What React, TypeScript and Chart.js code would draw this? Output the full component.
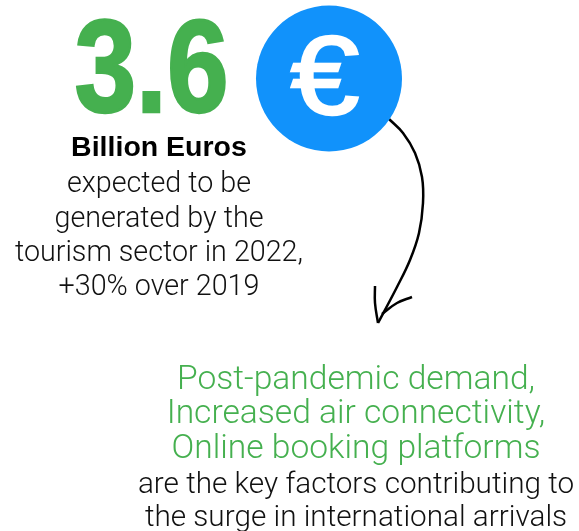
import React, { useEffect, useRef } from "react";
import { Chart, registerables } from "chart.js";

Chart.register(...registerables);

const headlineText = ["3.6"];
const unitText = ["Billion Euros"];
const bodyText = ["expected to be", "generated by the", "tourism sector in 2022,", "+30% over 2019"];
const factorText = ["Post-pandemic demand,", "Increased air connectivity,", "Online booking platforms"];
const closingText = ["are the key factors contributing to", "the surge in international arrivals"];
const currencyText = ["€"];

const bubbleX = [329];
const bubbleY = [78.5];
const arrowShaftX = [389, 403, 415, 422, 423, 419, 410, 397, 378];
const arrowShaftY = [119, 133, 153, 177, 203, 233, 260, 287, 323];
const arrowLeftX = [375, 375, 378];
const arrowLeftY = [286, 303, 323];
const arrowRightX = [382, 397, 412];
const arrowRightY = [314, 303, 297];

const GREEN = "#45b04f";
const BLUE = "#1192fb";

type Block = {
  texts: string[];
  x: number;
  ys: number[];
  font: string;
  color: string;
  baseline?: CanvasTextBaseline;
  stretch?: number;
  embolden?: number;
};

const blocks: Block[] = [
  { texts: headlineText, x: 151.5, ys: [111.5], font: 'bold 132px "Liberation Sans", sans-serif', color: GREEN, stretch: 0.84, embolden: 2.5 },
  { texts: unitText, x: 159, ys: [156], font: 'bold 28.5px "Liberation Sans", sans-serif', color: "#000000" },
  { texts: bodyText, x: 159, ys: [192, 227, 261, 295], font: '300 28.7px Roboto, "Liberation Sans", sans-serif', color: "#111111" },
  { texts: factorText, x: 356, ys: [389, 423, 458], font: '300 33.6px Roboto, "Liberation Sans", sans-serif', color: GREEN },
  { texts: closingText, x: 356, ys: [493, 526], font: '300 29.7px Roboto, "Liberation Sans", sans-serif', color: "#111111" },
  { texts: currencyText, x: 325, ys: [83], font: '112px "Liberation Sans", sans-serif', color: "#ffffff", baseline: "middle", stretch: 1.1, embolden: 2.5 },
];

const toPoints = (xs: number[], ys: number[]) => xs.map((x, i) => ({ x, y: ys[i] }));

const strokeDataset = (xs: number[], ys: number[]) => ({
  type: "line" as const,
  data: toPoints(xs, ys),
  borderColor: "#000000",
  borderWidth: 2.5,
  tension: 0.4,
  pointRadius: 0,
  fill: false,
  clip: false as const,
});

const textPlugin = {
  id: "infographicText",
  afterDatasetsDraw(chart: Chart) {
    const { ctx, scales } = chart;
    for (const b of blocks) {
      ctx.save();
      ctx.textAlign = "center";
      ctx.font = b.font;
      ctx.fillStyle = b.color;
      ctx.strokeStyle = b.color;
      ctx.textBaseline = b.baseline ?? "alphabetic";
      b.texts.forEach((t, i) => {
        const px = scales.x.getPixelForValue(b.x);
        const py = scales.y.getPixelForValue(b.ys[i]);
        ctx.save();
        ctx.translate(px, py);
        ctx.scale(b.stretch ?? 1, 1);
        ctx.fillText(t, 0, 0);
        if (b.embolden) {
          ctx.lineWidth = b.embolden;
          ctx.lineJoin = "miter";
          ctx.strokeText(t, 0, 0);
        }
        ctx.restore();
      });
      ctx.restore();
    }
  },
};

export default function App() {
  const ref = useRef<HTMLCanvasElement>(null);
  useEffect(() => {
    if (!ref.current) return;
    const chart = new Chart(ref.current, {
      type: "scatter",
      data: {
        datasets: [
          {
            data: toPoints(bubbleX, bubbleY),
            pointRadius: 73,
            pointBackgroundColor: BLUE,
            pointBorderWidth: 0,
            clip: { left: 0, top: 0, right: -177, bottom: 0 },
          } as any,
          strokeDataset(arrowShaftX, arrowShaftY),
          strokeDataset(arrowLeftX, arrowLeftY),
          strokeDataset(arrowRightX, arrowRightY),
        ],
      },
      options: {
        responsive: false,
        animation: false,
        layout: { padding: 0, autoPadding: false },
        events: [],
        plugins: { legend: { display: false }, tooltip: { enabled: false }, title: { display: false } },
        scales: {
          x: { type: "linear", min: 0, max: 579, display: false },
          y: { type: "linear", min: 0, max: 531, reverse: true, display: false },
        },
      },
      plugins: [textPlugin],
    });
    return () => chart.destroy();
  }, []);
  return (
    <div style={{ position: "absolute", left: 0, top: 0, width: 579, height: 531, background: "#fff" }}>
      <canvas ref={ref} width={579} height={531} style={{ display: "block" }} />
    </div>
  );
}
